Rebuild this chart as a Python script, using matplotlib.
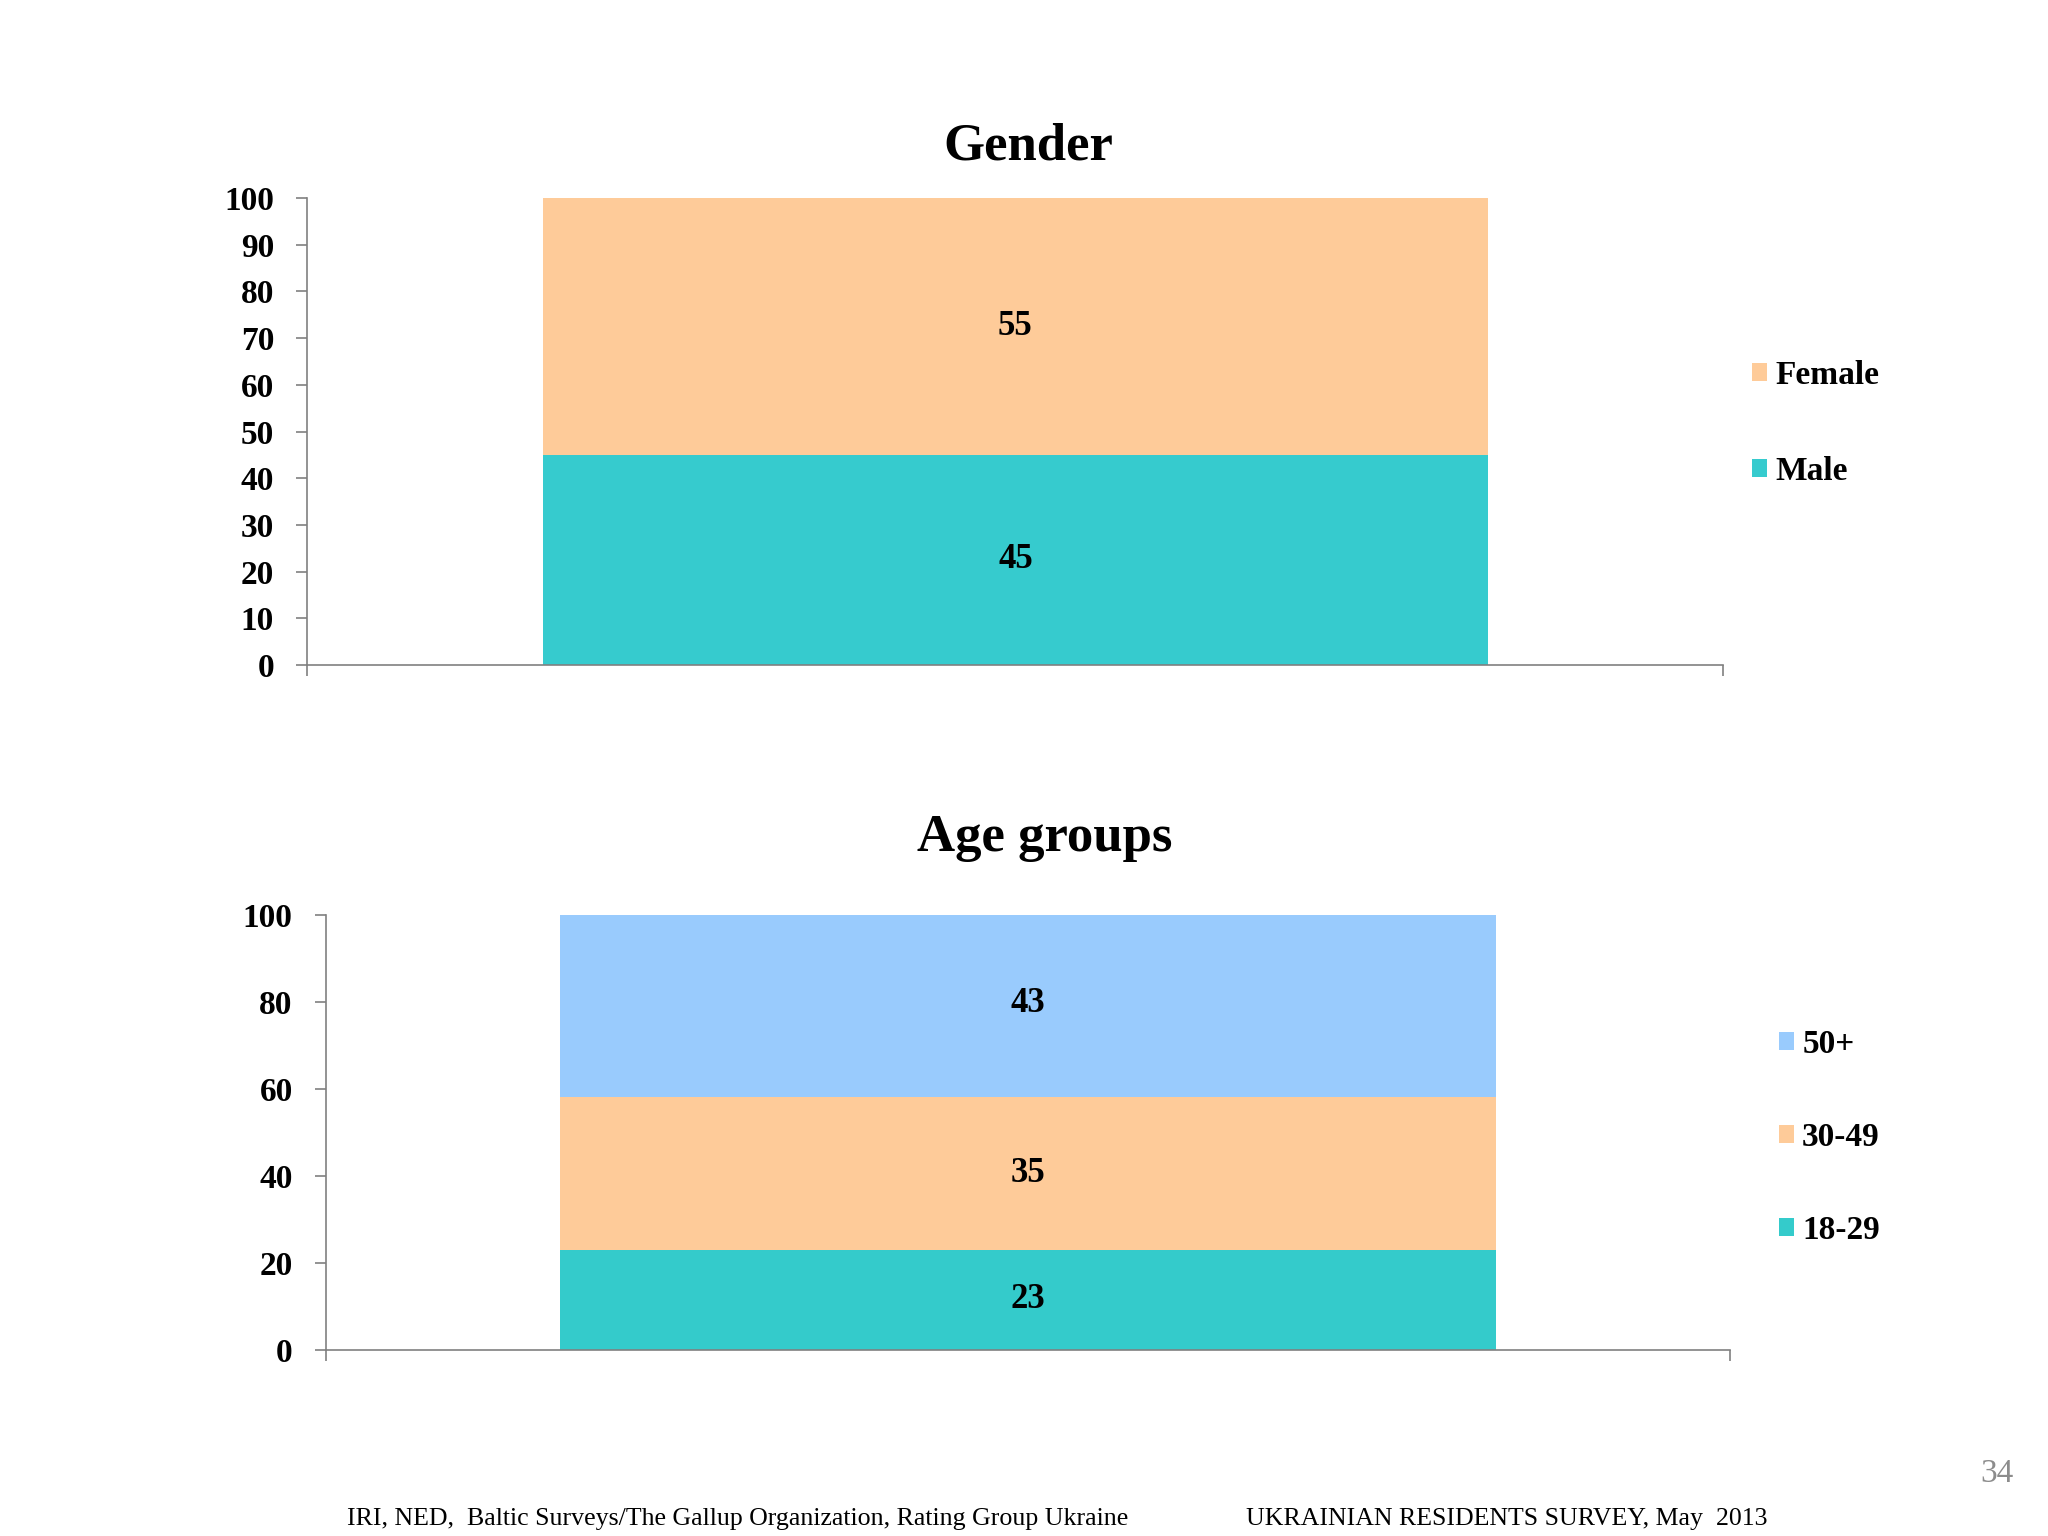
import matplotlib
matplotlib.use("Agg")
import matplotlib.pyplot as plt
from matplotlib.patches import Patch

plt.rcParams['font.family'] = ['Liberation Serif', 'DejaVu Serif']

# Data
gender_labels = ["Male", "Female"]
gender_values = [45, 55]
gender_colors = ["#36CBCE", "#FECB99"]
gender_ticks = list(range(0, 101, 10))

age_labels = ["18-29", "30-49", "50+"]
age_values = [23, 35, 43]
age_colors = ["#34CBCB", "#FECB99", "#99CBFD"]
age_ticks = list(range(0, 101, 20))

footer_left = "IRI, NED,  Baltic Surveys/The Gallup Organization, Rating Group Ukraine"
footer_right = "UKRAINIAN RESIDENTS SURVEY, May  2013"
page_number = "34"

fig = plt.figure(figsize=(10.24, 7.68), dpi=200)


def stacked(ax, labels, values, colors, ticks, title, title_xy, legend_anchor, legend_spacing):
    bottom = 0
    handles = []
    for lab, val, col in zip(labels, values, colors):
        ax.bar(0.5, val, width=0.667, bottom=bottom, color=col, edgecolor='none')
        ax.text(0.5, bottom + val / 2, str(val), ha='center', va='center',
                fontsize=12.5, fontweight='bold')
        handles.append(Patch(facecolor=col, edgecolor='none', label=lab))
        bottom += val
    ax.set_xlim(0, 1)
    ax.set_ylim(0, 100)
    ax.set_yticks(ticks)
    ax.set_yticklabels([str(t) for t in ticks], fontsize=12, fontweight='bold')
    ax.set_xticks([0, 1])
    ax.set_xticklabels([])
    ax.tick_params(axis='x', length=4, direction='out', color='#808080', width=0.6)
    ax.tick_params(axis='y', length=4, direction='out', color='#808080', width=0.6, pad=8)
    for s in ['top', 'right']:
        ax.spines[s].set_visible(False)
    for s in ['left', 'bottom']:
        ax.spines[s].set_color('#808080')
        ax.spines[s].set_linewidth(0.6)
    fig.text(title_xy[0], title_xy[1], title, ha='center', va='center',
             fontsize=19, fontweight='bold')
    fig.legend(handles=handles[::-1], loc='center left', bbox_to_anchor=legend_anchor,
               frameon=False, prop={'size': 12, 'weight': 'bold'},
               handlelength=0.45, handleheight=0.45, handletextpad=0.25,
               labelspacing=legend_spacing, borderaxespad=0, borderpad=0)
    return ax


ax1 = fig.add_axes([0.1501, 0.5670, 0.8415 - 0.1501, 0.8711 - 0.5670])
stacked(ax1, gender_labels, gender_values, gender_colors, gender_ticks, "Gender",
        (779 / 1552, 1 - 111 / 1164), (1328 / 1552, 1 - 321 / 1164), 1.95)

ax2 = fig.add_axes([0.1592, 0.1211, 0.8447 - 0.1592, 0.4046 - 0.1211])
stacked(ax2, age_labels, age_values, age_colors, age_ticks, "Age groups",
        (792 / 1552, 1 - 635 / 1164), (1348 / 1552, 1 - 862 / 1164), 1.85)

fig.text(263 / 1552, 1 - 1151 / 1164, footer_left, ha='left', va='center', fontsize=9.3)
fig.text(944 / 1552, 1 - 1151 / 1164, footer_right, ha='left', va='center', fontsize=9.3)
fig.text(1526 / 1552, 1 - 1117 / 1164, page_number, ha='right', va='center', fontsize=12,
         color='#8C8C8C')

fig.savefig("out.png", dpi=200)
